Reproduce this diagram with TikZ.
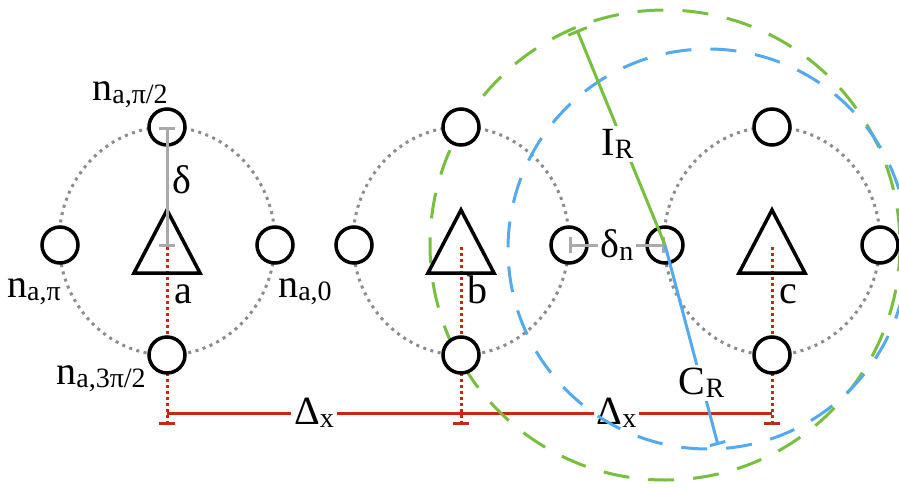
\documentclass[tikz,border=0pt]{standalone}
\usepackage{fontspec}
\setmainfont{Liberation Serif}
\usetikzlibrary{positioning, arrows.meta, backgrounds}
\definecolor{spanred}{HTML}{C8290E}
\definecolor{irgreen}{HTML}{78BE3F}
\definecolor{crblue}{HTML}{55AAEF}
\definecolor{ringgrey}{HTML}{8C8C8C}
\definecolor{bargrey}{HTML}{AAAAAA}
\newcommand{\lowtext}[1]{\raisebox{-3pt}{\fontsize{28}{28}\selectfont #1}}

\begin{document}
\begin{tikzpicture}[
    x=1pt, y=-1pt,
    font=\fontsize{40}{44}\selectfont,
    nd/.style={circle, draw=black, line width=3.5pt, fill=white, minimum size=36pt, inner sep=0pt},
    lbl/.style={inner sep=0pt, anchor=base},
    ring/.style={draw=ringgrey, line width=3pt, dash pattern=on 3pt off 4.5pt},
    drop/.style={draw=spanred, line width=3pt, dash pattern=on 3pt off 3pt, -{Bar[width=16pt]}},
    span/.style={draw=spanred, line width=3pt},
    gapl/.style={fill=white, inner sep=3pt},
    gap/.style={draw=bargrey, line width=3pt, {Bar[width=16pt]}-{Bar[width=16pt]}},
    irring/.style={draw=irgreen, line width=3pt, dash pattern=on 26pt off 19pt},
    crring/.style={draw=crblue, line width=3pt, dash pattern=on 26pt off 19pt},
    irline/.style={draw=irgreen, line width=3pt, -{Bar[width=20pt]}},
    crline/.style={draw=crblue, line width=3pt, -{Bar[width=16pt]}},
    tri/.style={draw=black, line width=3.5pt, line join=miter}
]
    \useasboundingbox (0,0) rectangle (899,489);

    % three clusters of four nodes round a centre
    \foreach \n/\x in {a/167, b/461, c/772} {
        \coordinate (\n) at (\x,247);
        \coordinate (\n-span) at (\x,413);
        \coordinate (\n-foot) at (\x,425);
        \node[nd] (\n-top) at (\x,127) {};
        \node[nd] (\n-bot) at (\x,355) {};
        \node[nd] (\n-left) at (\x-107,245) {};
        \node[nd] (\n-right) at (\x+108,245) {};
        \draw[tri] (\x,210) -- (\x-33,273) -- (\x+33,273) -- cycle;
        \node[lbl] (\n-name) at (\x+16,303) {\n};
    }

    \begin{scope}[on background layer]
        \foreach \x in {167, 461, 772}
            \draw[ring] (\x,241) ellipse[x radius=108, y radius=114];
        \draw[drop] (a) -- (a-foot);
        \draw[drop] (b) -- (b-foot);
        \draw[drop] (c) -- (c-foot);
        \draw[span] (a-span) -- node[gapl] {Δ\lowtext{x}} (b-span)
            -- node[gapl] {Δ\lowtext{x}} (c-span);
        \coordinate (crmid) at (708,249);
        \draw[irring] (c-left.center) circle[radius=235];
        \draw[crring] (crmid) circle[radius=200];
    \end{scope}

    % distances
    \draw[gap] (a-top.center) -- node[pos=.44, right=4pt, inner sep=0pt] {δ} (a);
    \draw[gap] (b-right.center) -- node[gapl] {δ\lowtext{n}} (c-left.center);
    \coordinate (irend) at (577,30);
    \coordinate (crend) at (718,445);
    \draw[irline] (c-left.center) -- node[gapl, pos=.47, xshift=-6pt] {I\lowtext{R}} (irend);
    \draw[crline] (c-left.center) -- node[gapl, pos=.69] {C\lowtext{R}} (crend);

    % node names
    \node[lbl] (n-half) at (130,101) {n\lowtext{a,π/2}};
    \node[lbl] (n-pi) at (34,297) {n\lowtext{a,π}};
    \node[lbl] (n-zero) at (305,297) {n\lowtext{a,0}};
    \node[lbl] (n-three) at (101,384) {n\lowtext{a,3π/2}};
\end{tikzpicture}
\end{document}
